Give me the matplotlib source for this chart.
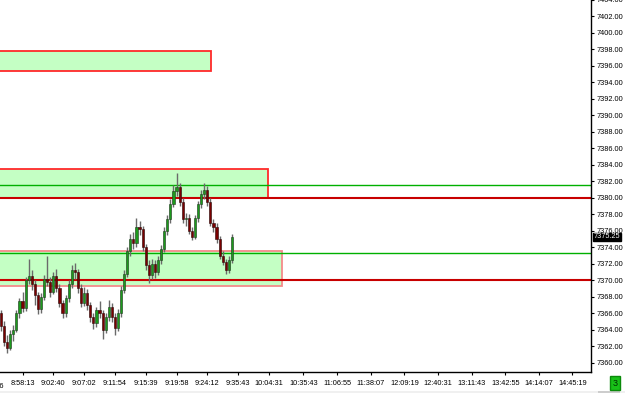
import matplotlib
matplotlib.use("Agg")
import matplotlib.pyplot as plt
from matplotlib.patches import Rectangle
import numpy as np

# candles, one per bar
opens = [7366.0, 7364.5, 7362.5, 7361.8, 7363.5, 7364.0, 7366.0, 7367.5, 7366.6, 7370.0,
         7370.5, 7369.5, 7368.2, 7366.5, 7368.0, 7370.2, 7369.8, 7368.6, 7370.5, 7369.0,
         7367.2, 7366.0, 7367.8, 7369.5, 7371.3, 7371.0, 7369.0, 7367.3, 7368.5, 7367.0,
         7365.5, 7364.8, 7366.4, 7366.0, 7364.0, 7365.5, 7366.8, 7365.5, 7364.2, 7366.0,
         7368.8, 7370.8, 7373.5, 7375.0, 7374.5, 7376.5, 7376.2, 7374.0, 7371.8, 7370.6,
         7372.0, 7371.0, 7372.5, 7373.8, 7376.0, 7377.4, 7379.3, 7380.8, 7381.3, 7379.5,
         7377.4, 7377.5, 7376.0, 7375.3, 7377.5, 7379.2, 7380.5, 7381.0, 7379.5, 7377.0,
         7376.5, 7375.0, 7373.0, 7372.2, 7371.2, 7372.4]
highs = [7366.4, 7365.0, 7363.4, 7364.0, 7364.6, 7366.4, 7367.9, 7368.6, 7370.4, 7372.6,
         7371.3, 7370.0, 7368.6, 7368.4, 7370.6, 7372.9, 7370.4, 7371.0, 7371.4, 7369.5,
         7367.6, 7368.2, 7370.0, 7371.8, 7372.1, 7371.4, 7369.6, 7369.2, 7368.9, 7367.4,
         7366.0, 7366.8, 7367.5, 7366.4, 7366.0, 7367.6, 7367.2, 7366.0, 7366.5, 7369.3,
         7371.2, 7374.0, 7375.6, 7375.8, 7377.6, 7377.2, 7376.6, 7374.4, 7372.4, 7372.6,
         7372.5, 7373.0, 7374.3, 7376.5, 7377.9, 7379.8, 7381.5, 7383.0, 7381.8, 7380.0,
         7378.2, 7378.0, 7376.5, 7377.9, 7379.6, 7380.9, 7381.8, 7381.4, 7380.0, 7377.4,
         7376.9, 7375.4, 7373.5, 7372.6, 7373.0, 7375.6]
lows = [7363.9, 7362.0, 7361.2, 7361.5, 7362.6, 7363.7, 7365.4, 7366.2, 7366.3, 7369.6,
        7368.8, 7367.0, 7365.9, 7366.0, 7367.6, 7369.3, 7368.0, 7368.3, 7368.6, 7366.7,
        7365.4, 7365.6, 7367.4, 7369.1, 7370.2, 7368.4, 7366.8, 7366.9, 7366.4, 7364.9,
        7364.1, 7364.3, 7365.4, 7362.9, 7363.6, 7365.1, 7364.9, 7363.4, 7363.8, 7365.6,
        7368.4, 7370.4, 7373.0, 7373.8, 7374.0, 7375.5, 7373.5, 7371.2, 7369.7, 7370.2,
        7370.3, 7370.6, 7372.0, 7373.4, 7375.5, 7377.0, 7378.9, 7380.2, 7379.0, 7376.9,
        7376.6, 7375.6, 7374.9, 7375.0, 7377.1, 7378.8, 7379.9, 7379.0, 7376.6, 7375.8,
        7374.5, 7372.6, 7371.8, 7370.8, 7370.9, 7372.1]
closes = [7364.5, 7362.5, 7361.8, 7363.5, 7364.0, 7366.0, 7367.5, 7366.6, 7370.0, 7370.5,
          7369.5, 7368.2, 7366.5, 7368.0, 7370.2, 7369.8, 7368.6, 7370.5, 7369.0, 7367.2,
          7366.0, 7367.8, 7369.5, 7371.3, 7371.0, 7369.0, 7367.3, 7368.5, 7367.0, 7365.5,
          7364.8, 7366.4, 7366.0, 7364.0, 7365.5, 7366.8, 7365.5, 7364.2, 7366.0, 7368.8,
          7370.8, 7373.5, 7375.0, 7374.5, 7376.5, 7376.2, 7374.0, 7371.8, 7370.6, 7372.0,
          7371.0, 7372.5, 7373.8, 7376.0, 7377.4, 7379.3, 7380.8, 7381.3, 7379.5, 7377.4,
          7377.5, 7376.0, 7375.3, 7377.5, 7379.2, 7380.5, 7381.0, 7379.5, 7377.0, 7376.5,
          7375.0, 7373.0, 7372.2, 7371.2, 7372.4, 7375.25]

time_labels = ["8:58:13", "9:02:40", "9:07:02", "9:11:54", "9:15:39", "9:19:58", "9:24:12",
               "9:35:43", "10:04:31", "10:35:43", "11:06:55", "11:38:07", "12:09:19",
               "12:40:31", "13:11:43", "13:42:55", "14:14:07", "14:45:19"]

# zones: (bottom, top, bar where the zone ends)
zones = [(7395.35, 7397.8, 68.2), (7380.0, 7383.45, 86.7), (7369.3, 7373.5, 91.1)]
green_levels = [7381.5, 7373.3]
red_levels = [7380.0, 7370.0]
last_price = closes[-1]

W, H = 625, 393
fig = plt.figure(figsize=(W / 100, H / 100), dpi=100)
ax = fig.add_axes([0, 21 / H, 591 / W, 372 / H])
ax.set_xlim(-0.32, 191.6)
ax.set_ylim(7358.87, 7404.0)

FONT = "Liberation Sans"
FS = 5.3

# zones
zone_edges = ["#ff2a2a", "#ff2a2a", "#f58a8a"]
for (lo, hi, xe), ec in zip(zones, zone_edges):
    ax.add_patch(Rectangle((-1, lo), xe + 1, hi - lo, facecolor="#c4ffc4",
                           edgecolor=ec, lw=1.3, zorder=1))

for lv in green_levels:
    ax.axhline(lv, color="#00b000", lw=1.0, zorder=2)
for lv in red_levels:
    ax.axhline(lv, color="#c80000", lw=1.5, zorder=2)

# candles
x = np.arange(len(closes))
o = np.array(opens); c = np.array(closes)
ax.vlines(x, lows, highs, color="#6a6a6a", lw=1.0, zorder=3)
up = c >= o
bw = 0.7
ax.bar(x[up], (c - o)[up], bottom=o[up], width=bw, color="#1c9a1c",
       edgecolor="#1f3a1f", lw=0.4, zorder=4)
ax.bar(x[~up], (o - c)[~up], bottom=c[~up], width=bw, color="#7a0000",
       edgecolor="#2a0a0a", lw=0.4, zorder=4)

# axes look
for s in ["left", "top"]:
    ax.spines[s].set_visible(False)
ax.spines["right"].set_linewidth(1.0)
ax.spines["bottom"].set_linewidth(1.0)
ax.yaxis.tick_right()
yt = np.arange(7360, 7405, 2)
ax.set_yticks(yt)
ax.set_yticklabels([f"{v:.2f}" for v in yt], fontsize=FS, family=FONT)
ax.tick_params(axis="y", length=2.5, width=0.8, pad=1.5)

tick_pos = [7 + 10 * k for k in range(9)] + [87.3 + 10.92 * k for k in range(1, 10)]
ax.set_xticks(tick_pos)
ax.set_xticklabels(time_labels, fontsize=FS, family=FONT)
ax.tick_params(axis="x", length=2.5, width=0.8, pad=3)
# cut-off label at the left edge
ax.text(-3, -0.03, "8:54:06", transform=ax.get_xaxis_transform(), ha="center",
        va="top", fontsize=FS, family=FONT, clip_on=False)

# last price tag
ax.text(1.004, last_price, f"{last_price:.2f}", transform=ax.get_yaxis_transform(),
        ha="left", va="center", fontsize=FS, family=FONT, color="white",
        bbox=dict(facecolor="black", edgecolor="black", pad=0.6), zorder=10)

# bottom strip and badge
fig.patches.append(Rectangle((0, 0), 1, 2.5 / H, transform=fig.transFigure,
                             facecolor="#f0f0f0", edgecolor="none"))
fig.patches.append(Rectangle((598 / W, 0), 22 / W, 2.5 / H, transform=fig.transFigure,
                             facecolor="#cdcdcd", edgecolor="none"))
fig.text(615 / W, 10 / H, "3", ha="center", va="center", fontsize=6.5,
         family=FONT, color="#003000",
         bbox=dict(facecolor="#18c018", edgecolor="#0a8a0a", pad=1.5))

fig.savefig("out.png", dpi=100)
